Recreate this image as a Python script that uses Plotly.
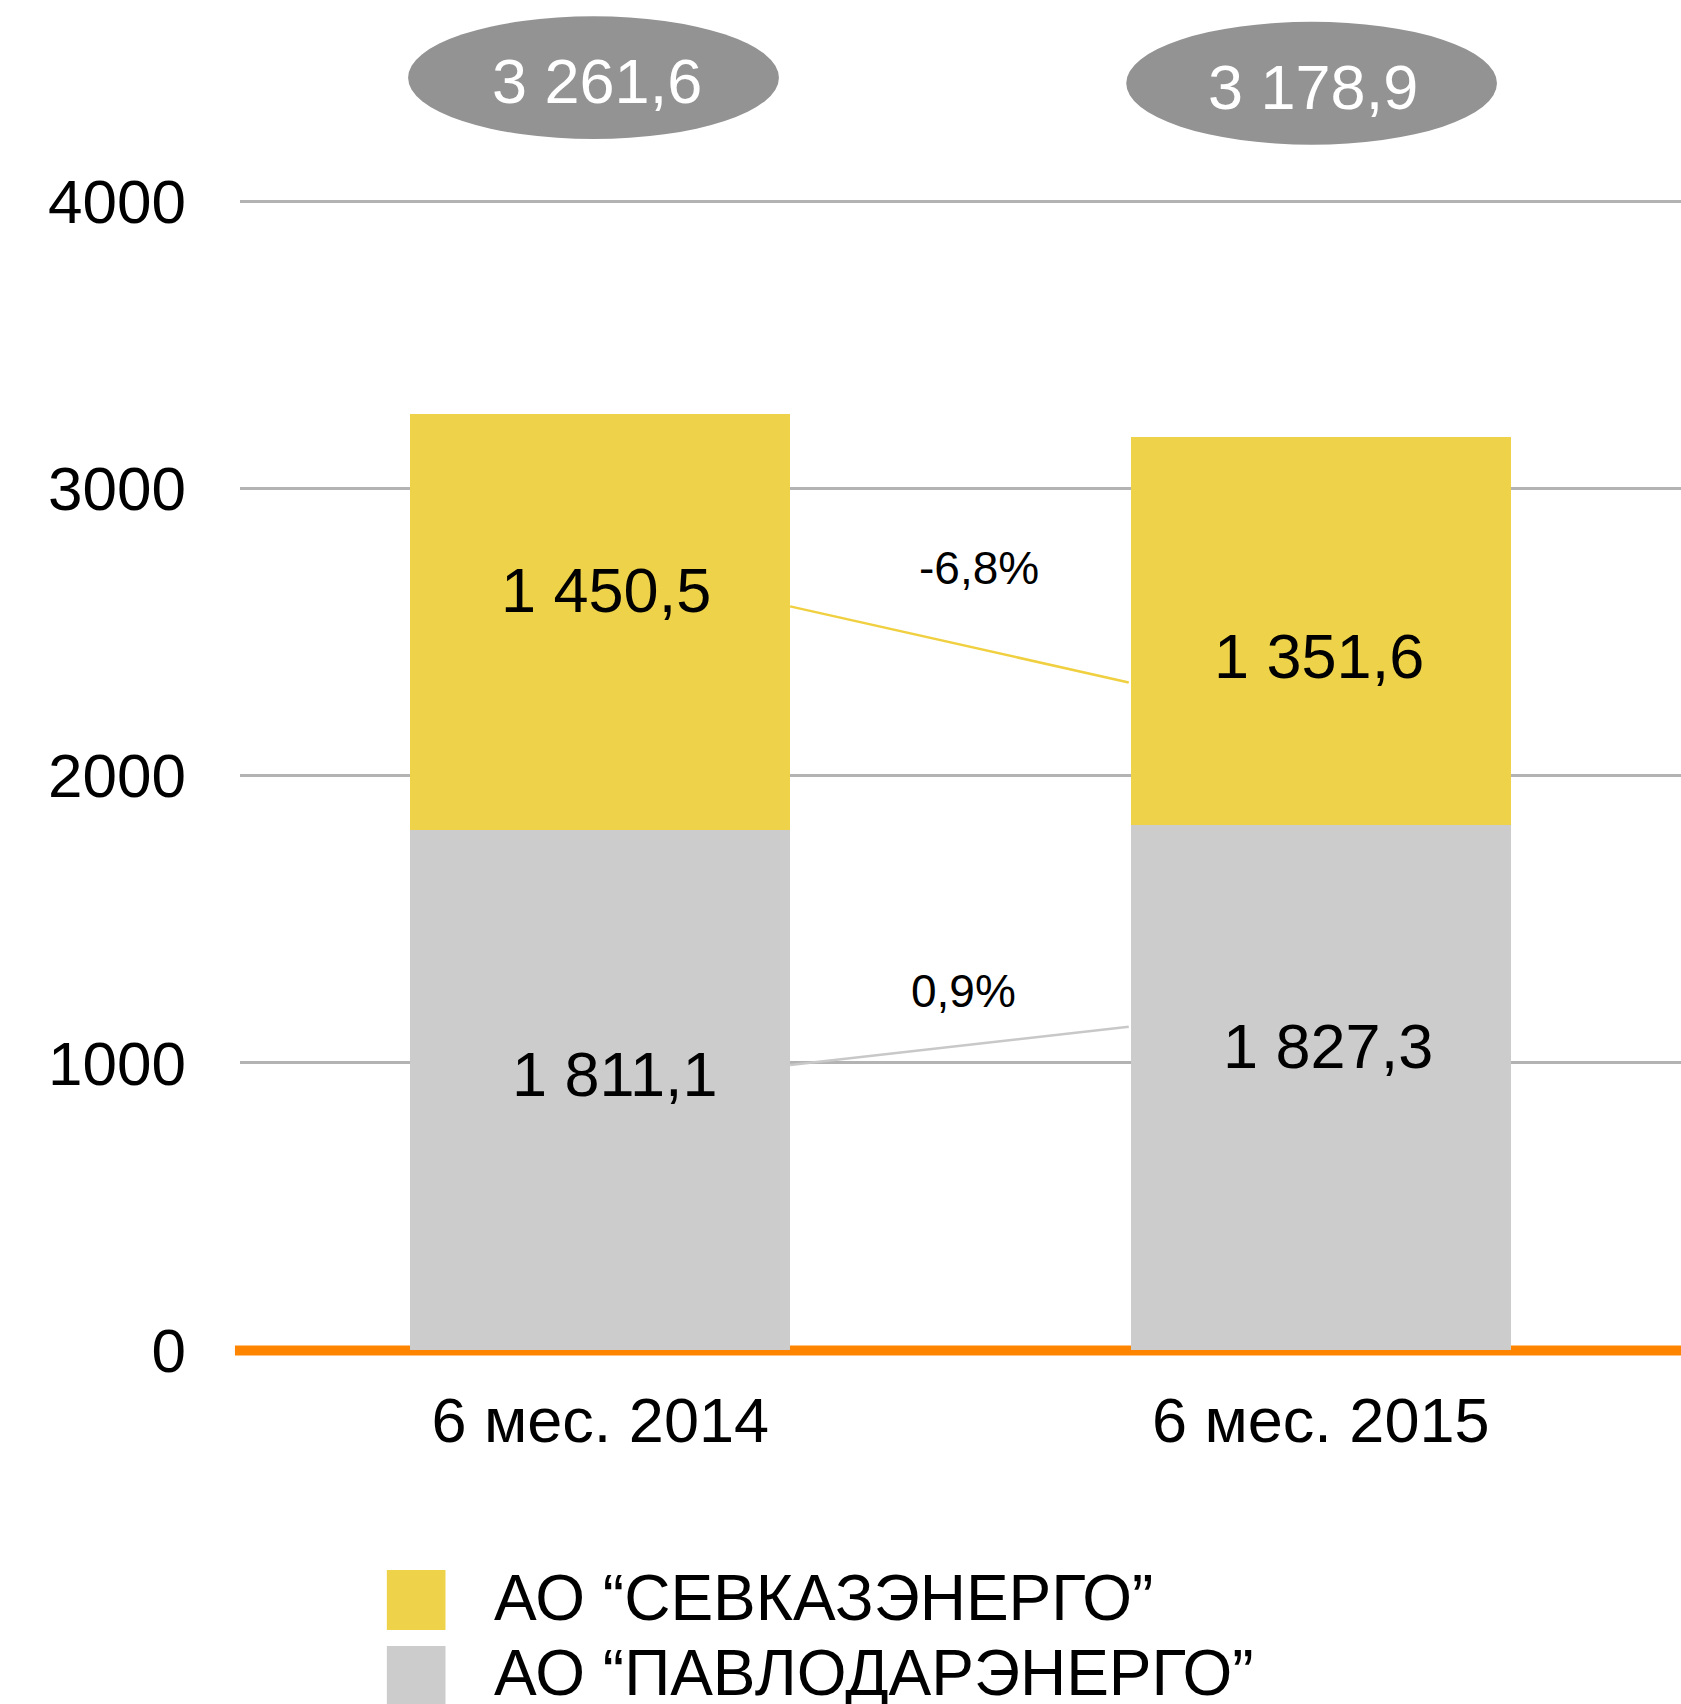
import plotly.graph_objects as go

# ---- data ----
categories = ["6 мес. 2014", "6 мес. 2015"]
pavlodar = [1811.1, 1827.3]      # АО "ПАВЛОДАРЭНЕРГО"
sevkaz = [1450.5, 1351.6]        # АО "СЕВКАЗЭНЕРГО"
totals = [3261.6, 3178.9]
changes = ["-6,8%", "0,9%"]      # sevkaz change, pavlodar change
series_names = ["АО “СЕВКАЗЭНЕРГО”", "АО “ПАВЛОДАРЭНЕРГО”"]
y_ticks = [0, 1000, 2000, 3000, 4000]

YELLOW = "#EED249"
GRAY = "#CBCCCB"
ORANGE = "#FF8500"
FONT = "Liberation Sans, Arial, sans-serif"


def fmt(v):
    s = f"{v:,.1f}".replace(",", " ").replace(".", ",")
    return s


xpos = list(range(len(categories)))
BW = 0.527

fig = go.Figure()
fig.add_trace(go.Bar(x=xpos, y=pavlodar, marker_color=GRAY, width=BW,
                     name=series_names[1], showlegend=False,
                     marker_line_width=0, hoverinfo="skip"))
fig.add_trace(go.Bar(x=xpos, y=sevkaz, marker_color=YELLOW, width=BW,
                     name=series_names[0], showlegend=False,
                     marker_line_width=0, hoverinfo="skip"))

ann = []
shapes = []

# value labels inside segments (manually nudged as in the original)
lab_off_low = [(0.02, 57), (0.01, 145)]
lab_off_high = [(0.008, 111), (-0.003, -86)]
for i in xpos:
    mid_low = pavlodar[i] / 2
    mid_high = pavlodar[i] + sevkaz[i] / 2
    ann.append(dict(x=i + lab_off_low[i][0], y=mid_low + lab_off_low[i][1],
                    text=fmt(pavlodar[i]), showarrow=False,
                    font=dict(size=63, color="black", family=FONT)))
    ann.append(dict(x=i + lab_off_high[i][0], y=mid_high + lab_off_high[i][1],
                    text=fmt(sevkaz[i]), showarrow=False,
                    font=dict(size=63, color="black", family=FONT)))

# total ellipses
ell = [(-0.2667, 0.248, 4217.6, 4645), (0.730, 1.2446, 4198, 4626)]
tot_pos = [(-0.004, 4418), (0.9897, 4400)]
for i in xpos:
    x0, x1, y0, y1 = ell[i]
    shapes.append(dict(type="circle", xref="x", yref="y", x0=x0, x1=x1,
                       y0=y0, y1=y1, fillcolor="#939393", line_width=0,
                       layer="above"))
    ann.append(dict(x=tot_pos[i][0], y=tot_pos[i][1], text=fmt(totals[i]),
                    showarrow=False,
                    font=dict(size=63, color="white", family=FONT)))

# connector lines and change labels
shapes.append(dict(type="line", xref="x", yref="y", x0=BW / 2, x1=0.7335,
                   y0=2590, y1=2325, line=dict(color="#F0D040", width=2.5),
                   layer="above"))
shapes.append(dict(type="line", xref="x", yref="y", x0=BW / 2, x1=0.7335,
                   y0=993, y1=1126, line=dict(color="#C8C8C8", width=2.5),
                   layer="above"))
ann.append(dict(x=0.526, y=2723, text=changes[0], showarrow=False,
                font=dict(size=46, color="black", family=FONT)))
ann.append(dict(x=0.504, y=1250, text=changes[1], showarrow=False,
                font=dict(size=46, color="black", family=FONT)))

# orange baseline (paper refs so it is not clipped)
shapes.append(dict(type="line", xref="paper", yref="paper", x0=-0.0035, x1=1,
                   y0=-0.0004, y1=-0.0004, line=dict(color=ORANGE, width=10),
                   layer="below"))

# manual legend
leg_rows = [(series_names[0], YELLOW, -0.163, -0.2074, -0.1837),
            (series_names[1], GRAY, -0.2193, -0.27, -0.2393)]
for name, col, ya, yb, yt in leg_rows:
    shapes.append(dict(type="rect", xref="paper", yref="paper",
                       x0=0.1019, x1=0.1426, y0=yb, y1=ya,
                       fillcolor=col, line_width=0))
    ann.append(dict(xref="paper", yref="paper", x=0.1749, y=yt,
                    xanchor="left", yanchor="middle", text=name,
                    showarrow=False,
                    font=dict(size=64, color="black", family=FONT)))

fig.update_layout(
    width=1681, height=1704,
    margin=dict(l=240, r=0, t=0, b=354, pad=0),
    paper_bgcolor="white", plot_bgcolor="white",
    barmode="stack",
    shapes=shapes, annotations=ann,
    font=dict(family=FONT, color="black"),
    xaxis=dict(range=[-0.5, 1.5], tickvals=xpos, ticktext=categories,
               showgrid=False, zeroline=False, showline=False,
               tickfont=dict(size=63, family=FONT, color="black"),
               ticklabelstandoff=28, fixedrange=True),
    yaxis=dict(range=[0, 4701.8], tickvals=y_ticks,
               ticktext=[str(t) for t in y_ticks],
               showgrid=True, gridcolor="#B3B3B3", gridwidth=2.5,
               zeroline=False, showline=False,
               tickfont=dict(size=62, family=FONT, color="black"),
               ticklabelstandoff=53, fixedrange=True),
)

fig.write_html(
    "out.html",
    config={"displayModeBar": False},
    post_script="document.body.style.margin='0';"
                "document.body.style.overflow='hidden';",
)
